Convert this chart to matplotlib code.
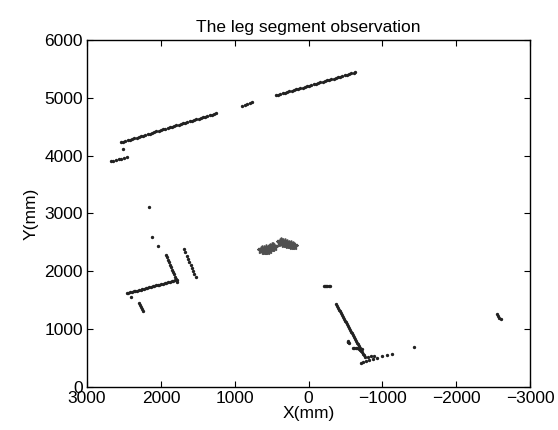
import numpy as np
import matplotlib
matplotlib.use('Agg')
from matplotlib import pyplot as plt

# leg segment points (mm)
top_a_x = [2680, 2645, 2610, 2570, 2535, 2500, 2460]
top_a_y = [3900, 3912, 3925, 3937, 3950, 3962, 3975]

top_b_x = [2508, 2540, 2510, 2480, 2450, 2420, 2390, 2360, 2330, 2300, 2270, 2240, 2210,
           2180, 2150, 2120, 2090, 2060, 2030, 2000, 1970, 1940, 1910, 1880, 1850,
           1820, 1790, 1760, 1730, 1700, 1670, 1640, 1610, 1580, 1550, 1520, 1490,
           1460, 1430, 1400, 1370, 1340, 1310, 1280, 1253]
top_b_y = [4110, 4231, 4243, 4254, 4266, 4278, 4289, 4301, 4313, 4324, 4336, 4348, 4359,
           4371, 4383, 4394, 4406, 4418, 4429, 4441, 4453, 4464, 4476, 4488, 4499,
           4511, 4523, 4534, 4546, 4558, 4569, 4581, 4593, 4604, 4616, 4628, 4639,
           4651, 4663, 4674, 4686, 4698, 4709, 4721, 4732]

top_c_x = [900, 866, 833, 800, 766]
top_c_y = [4864, 4878, 4893, 4907, 4922]

top_d_x = [441, 411, 381, 351, 321, 291, 261, 231, 201, 171, 141, 111, 81, 51, 21, -9,
           -39, -69, -99, -129, -159, -189, -219, -249, -279, -309, -339, -369, -399,
           -429, -459, -489, -519, -549, -579, -609, -629]
top_d_y = [5044, 5055, 5066, 5077, 5089, 5100, 5111, 5122, 5133, 5144, 5155, 5166, 5177,
           5189, 5200, 5211, 5222, 5233, 5244, 5255, 5266, 5277, 5289, 5300, 5311,
           5322, 5333, 5344, 5355, 5366, 5377, 5389, 5400, 5411, 5422, 5433, 5441]

left_x = [2165, 2124, 2043,
          1934, 1920, 1906, 1892, 1878, 1864, 1850, 1836, 1822, 1808, 1795, 1781,
          1687, 1669, 1652, 1634, 1616, 1599, 1581, 1563, 1546, 1528,
          2462, 2439, 2416, 2392, 2369, 2346, 2322, 2299, 2276, 2252, 2229, 2206,
          2182, 2159, 2136, 2112, 2089, 2066, 2042, 2019, 1996, 1972, 1949, 1926,
          1902, 1879, 1856, 1832, 1809, 1786,
          2408, 2292, 2279, 2265, 2252, 2238]
left_y = [3107, 2588, 2443,
          2282, 2240, 2198, 2156, 2114, 2072, 2030, 1988, 1946, 1904, 1862, 1821,
          2381, 2327, 2273, 2220, 2166, 2112, 2058, 2005, 1951, 1897,
          1620, 1628, 1636, 1644, 1652, 1660, 1668, 1675, 1683, 1691, 1699, 1707,
          1715, 1723, 1731, 1739, 1747, 1755, 1763, 1771, 1779, 1787, 1795, 1802,
          1810, 1818, 1826, 1834, 1842, 1850,
          1561, 1458, 1422, 1386, 1350, 1314]

right_x = [-209, -225, -240, -255, -270, -290,
           -371, -385, -398, -412, -425, -439, -452, -466, -479, -493, -507, -520,
           -534, -547, -561, -574, -588, -601, -615, -629, -642, -656, -669, -683,
           -696, -710, -723, -737, -750, -764,
           -530, -540, -548, -535,
           -600, -620, -640, -660, -680, -700, -715, -724, -690, -710,
           -706, -740, -780, -820, -870, -930, -1000, -1060, -1126,
           -800, -840, -886, -1428,
           -2556, -2570, -2585, -2601]
right_y = [1746, 1748, 1750, 1745, 1742, 1740,
           1435, 1403, 1372, 1340, 1308, 1276, 1245, 1213, 1181, 1149, 1118, 1086,
           1054, 1022, 991, 959, 927, 895, 864, 832, 800, 768, 737, 705,
           673, 641, 610, 578, 546, 514,
           800, 780, 760, 770,
           675, 670, 668, 672, 665, 660, 655, 650, 640, 620,
           420, 440, 455, 470, 490, 510, 530, 550, 565,
           525, 535, 541, 697,
           1257, 1230, 1200, 1170]

# person (star markers), two separate blobs
star_x = [640, 625, 610, 600, 590, 580, 570, 560, 550, 540, 530, 520, 510, 500, 490,
          480, 470,
          390, 380, 370, 360, 345, 330, 320, 305, 290, 280, 265, 250, 235, 220, 210, 200]
star_y = [2370, 2380, 2360, 2390, 2345, 2370, 2400, 2355, 2385, 2410, 2365, 2420, 2395,
          2435, 2410, 2445, 2425,
          2505, 2525, 2490, 2515, 2500, 2480, 2510, 2470, 2495, 2460, 2480, 2455, 2470,
          2445, 2460, 2440]

xticks = [3000, 2000, 1000, 0, -1000, -2000, -3000]
yticks = [0, 1000, 2000, 3000, 4000, 5000, 6000]

plt.rcParams['font.family'] = ['Liberation Sans', 'DejaVu Sans']
plt.rcParams['font.size'] = 12.5

fig = plt.figure(figsize=(5.58, 4.30), dpi=100)
ax = fig.add_axes([0.156, 0.100, 0.794, 0.807])

dot = dict(linestyle='none', marker='o', markersize=1.4, color='#222222')
for xs, ys in [(top_a_x, top_a_y), (top_b_x, top_b_y), (top_c_x, top_c_y),
               (top_d_x, top_d_y), (left_x, left_y), (right_x, right_y)]:
    ax.plot(xs, ys, **dot)
ax.plot(star_x, star_y, linestyle='none', marker='*', markersize=6, color='#505050')

ax.set_xlim(3000, -3000)
ax.set_ylim(0, 6000)
ax.set_xticks(xticks)
ax.set_yticks(yticks)
ax.tick_params(direction='in', length=4, width=0.8, top=True, right=True, pad=3)
for s in ax.spines.values():
    s.set_linewidth(1.0)

ax.set_title('The leg segment observation', fontsize=12.5, pad=6)
ax.set_xlabel('X(mm)', labelpad=0)
ax.set_ylabel('Y(mm)', labelpad=4)

fig.savefig('out.png', dpi=100)
